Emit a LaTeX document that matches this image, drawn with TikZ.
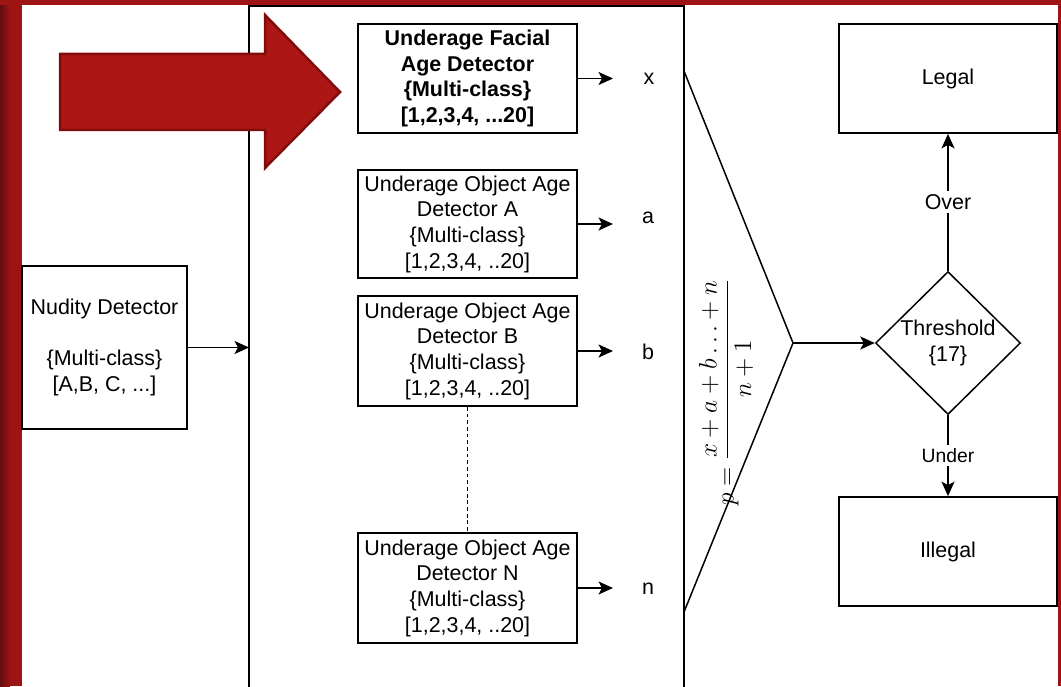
\documentclass[tikz,border=0pt]{standalone}
\usepackage[no-math]{fontspec}
\setmainfont{Liberation Sans}
\usetikzlibrary{arrows.meta,shapes.geometric}
\definecolor{framered}{RGB}{158,19,19}
\definecolor{framedark}{RGB}{100,14,14}
\definecolor{pointerred}{RGB}{172,22,20}
\definecolor{pointerline}{RGB}{128,12,12}
\tikzset{
	detector/.style={draw, line width=0.35mm, minimum width=4.38cm, minimum height=2.18cm, inner sep=0pt, align=center, font={\fontsize{12.2}{14.6}\selectfont}},
	flow/.style={line width=0.35mm, -{Stealth[length=2.9mm, width=2.6mm, inset=0.7mm]}},
	outlbl/.style={inner sep=1pt, font={\fontsize{12.2}{14.6}\selectfont}},
	edgelbl/.style={fill=white, inner sep=2pt, font={\fontsize{12.2}{14.6}\selectfont}}
}

\begin{document}
\begin{tikzpicture}[x=0.02cm, y=-0.02cm]
			%%%%% START %%%%%
			
			\useasboundingbox (0, 0) rectangle (1061, 686);
			\fill[white] (0, 0) rectangle (1061, 686);
			
			% frame
			\shade[left color=framedark, right color=framered] (0, 0) rectangle (10, 686);
			\fill[framered] (10, 0) rectangle (22, 686);
			\fill[framered] (0, 0) rectangle (1061, 5);
			\fill[framered] (1058, 0) rectangle (1061, 686);
			
			% panel of the age detectors
			\draw[line width=0.35mm] (249, 700) -- (249, 6) -- (684, 6) -- (684, 700);
			
			\node[detector, minimum width=3.3cm, minimum height=3.26cm] (nudity) at (104.5, 347.5) {Nudity Detector\\[14.6pt]\{Multi-class\}\\{[A,B, C, ...]}};
			\coordinate (panelin) at (249, 347.5);
			\draw[flow] (nudity.east) -- (panelin);
			
			\node[detector, font={\fontsize{12.2}{14.6}\selectfont\bfseries}] (facial) at (467.5, 78.5) {Underage Facial\\Age Detector\\\{Multi-class\}\\{[1,2,3,4, ...20]}};
			\node[detector, minimum height=2.16cm] (objA) at (467.5, 224) {Underage Object Age\\Detector A\\\{Multi-class\}\\{[1,2,3,4, ..20]}};
			\node[detector, minimum height=2.2cm] (objB) at (467.5, 351) {Underage Object Age\\Detector B\\\{Multi-class\}\\{[1,2,3,4, ..20]}};
			\node[detector, minimum height=2.2cm] (objN) at (467.5, 588) {Underage Object Age\\Detector N\\\{Multi-class\}\\{[1,2,3,4, ..20]}};
			\draw[line width=0.3mm, dash pattern=on 2.2pt off 1.6pt] (objB.south) -- (objN.north);
			
			\coordinate (tipx) at (613, 0);
			\draw[flow] (facial.east) -- (facial.east -| tipx);
			\draw[flow] (objA.east) -- (objA.east -| tipx);
			\draw[flow] (objB.east) -- (objB.east -| tipx);
			\draw[flow] (objN.east) -- (objN.east -| tipx);
			
			\node[outlbl] (outx) at (649, 79) {x};
			\node[outlbl] (outa) at (648, 218) {a};
			\node[outlbl] (outb) at (648, 352) {b};
			\node[outlbl] (outn) at (648, 589) {n};
			
			% averaging
			\coordinate (fanA) at (684, 71);
			\coordinate (apex) at (793, 343);
			\coordinate (fanB) at (684, 612);
			\draw[line width=0.3mm] (fanA) -- (apex) -- (fanB);
			\node[rotate=90, inner sep=0pt, font={\fontsize{14.5}{17}\selectfont}] (mean) at (726, 392) {$\displaystyle p=\frac{x+a+b\ldots+n}{n+1}$};
			
			% decision
			\node[draw, diamond, line width=0.3mm, minimum width=2.9cm, minimum height=2.86cm, inner sep=0pt, align=center, font={\fontsize{12.2}{14.6}\selectfont}] (thresh) at (948, 343) {Threshold\\\{17\}};
			\draw[flow] (apex) -- (thresh.west);
			
			\node[detector, minimum width=4.36cm] (legal) at (948, 78.5) {Legal};
			\node[detector, minimum width=4.36cm] (illegal) at (948, 551.5) {Illegal};
			\draw[flow] (thresh.north) -- node[edgelbl] (over) {Over} (legal.south);
			\draw[flow] (thresh.south) -- node[edgelbl, font={\fontsize{11}{13}\selectfont}] (under) {Under} (illegal.north);
			
			% pointer
			\draw[line width=0.5mm, draw=pointerline, fill=pointerred, line join=miter] (60, 54) -- (265, 54) -- (265, 15) -- (340, 92) -- (265, 168) -- (265, 130) -- (60, 130) -- cycle;
			
			%%%%% END %%%%%
\end{tikzpicture}
\end{document}
